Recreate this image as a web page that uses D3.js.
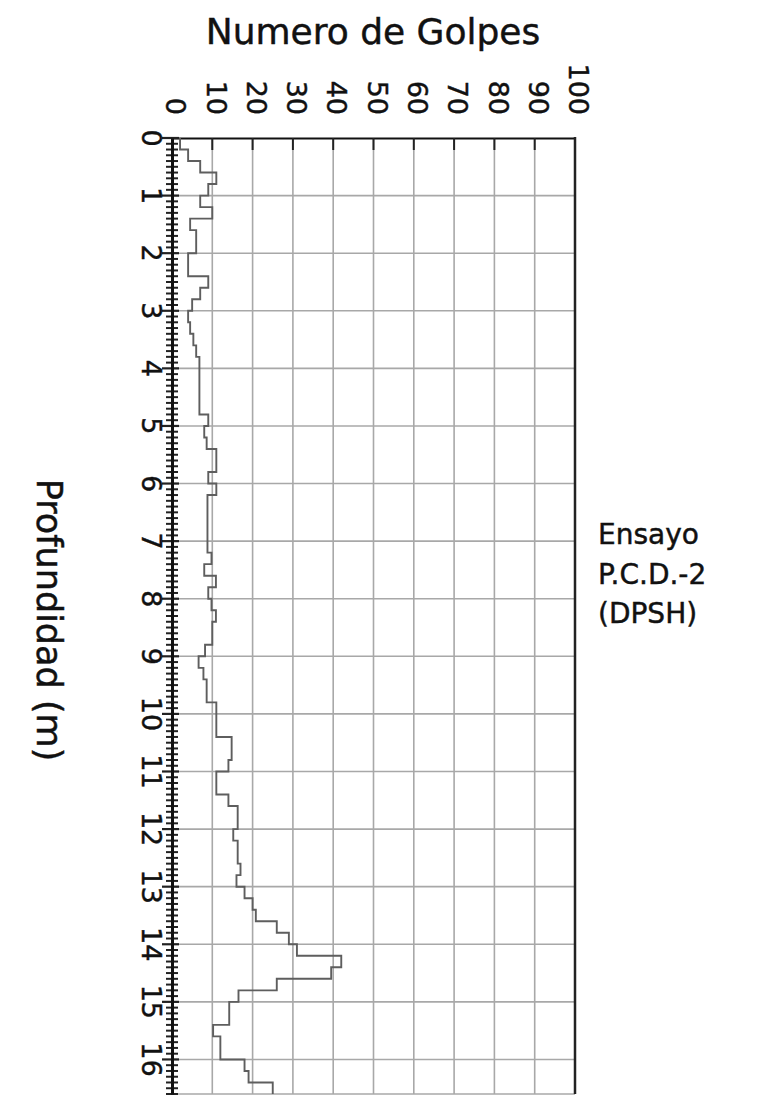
<!DOCTYPE html>
<html><head><meta charset="utf-8">
<script src="https://cdn.jsdelivr.net/npm/d3@7"></script>
<style>html,body{margin:0;padding:0;background:#fff}svg{display:block}</style>
</head><body>
<svg id="chart" width="766" height="1095"></svg>
<script>
// ---- data ----
const golpesTicks = [0,10,20,30,40,50,60,70,80,90,100];
const profTicks = [0,1,2,3,4,5,6,7,8,9,10,11,12,13,14,15,16];
// depth of top of each 20 cm interval (m)
const depthTop = [0.0,0.2,0.4,0.6,0.8,1.0,1.2,1.4,1.6,1.8,2.0,2.2,2.4,2.6,2.8,3.0,3.2,3.4,3.6,3.8,
  4.0,4.2,4.4,4.6,4.8,5.0,5.2,5.4,5.6,5.8,6.0,6.2,6.4,6.6,6.8,7.0,7.2,7.4,7.6,7.8,
  8.0,8.2,8.4,8.6,8.8,9.0,9.2,9.4,9.6,9.8,10.0,10.2,10.4,10.6,10.8,11.0,11.2,11.4,11.6,11.8,
  12.0,12.2,12.4,12.6,12.8,13.0,13.2,13.4,13.6,13.8,14.0,14.2,14.4,14.6,14.8,15.0,15.2,15.4,15.6,15.8,
  16.0,16.2,16.4];
// blows (N20) per interval
const golpes = [2,4,7,11,9,7,10,4.5,6,6,4,4,9,7,5,4,4.5,5.3,6,6.8,
  6.8,6.8,6.8,6.8,9,8,8.6,11,11,9,11,8.8,8.8,8.8,8.8,8.8,9.8,8,10.9,9,
  9.8,10.9,10,10,8.2,6.6,7.8,8.6,8.6,11,11,11,14.8,14.8,14,11,11,14,16.3,16.3,
  15.2,16.3,16.3,17,16,18,20,20.8,26,29,31,42,39.5,26,16.5,14.2,14.2,10.2,12,12,
  18,19,25];
const intervalo = 0.2;
const profMax = 16.6;

// ---- layout ----
const svg = d3.select('#chart');
const FONT = 'DejaVu Sans';
const L = 172, R = 575, T = 138, B = 1094;
const x = d3.scaleLinear().domain([0,100]).range([L,R]);
const y = d3.scaleLinear().domain([0,profMax]).range([T,B]);

function txt(sel, size){
  return sel.attr('font-family',FONT).attr('font-size',size).attr('fill','#111')
    .attr('stroke','#111').attr('stroke-width',0.45);
}

// grid
const g = svg.append('g');
g.selectAll('line.vg').data(golpesTicks.slice(1,-1)).join('line')
  .attr('x1',d=>x(d)).attr('x2',d=>x(d)).attr('y1',T).attr('y2',B)
  .attr('stroke','#a8a8a8').attr('stroke-width',1.6);
g.selectAll('line.hg').data(profTicks.slice(1)).join('line')
  .attr('x1',L).attr('x2',R).attr('y1',d=>y(d)).attr('y2',d=>y(d))
  .attr('stroke','#a8a8a8').attr('stroke-width',1.6);
g.append('line').attr('x1',L).attr('x2',R).attr('y1',B).attr('y2',B).attr('stroke','#a8a8a8').attr('stroke-width',1.6);

// top axis
const topAxis = d3.axisTop(x).tickValues(golpesTicks).tickSize(0).tickFormat('');
const ta = svg.append('g').attr('transform',`translate(0,${T})`).call(topAxis);
ta.select('.domain').attr('stroke','#111').attr('stroke-width',2.2);
svg.selectAll('line.tt').data(golpesTicks.slice(1,-1)).join('line')
  .attr('x1',d=>x(d)).attr('x2',d=>x(d)).attr('y1',T).attr('y2',T+12)
  .attr('stroke','#222').attr('stroke-width',2);
txt(svg.selectAll('text.tl').data(golpesTicks).join('text')
  .attr('transform',d=>`translate(${x(d)+4},115) rotate(90)`)
  .attr('text-anchor','end').attr('dy','0.36em'), 27)
  .text(d=>d);

// right border
svg.append('line').attr('x1',R).attr('x2',R).attr('y1',T-1).attr('y2',B)
  .attr('stroke','#222').attr('stroke-width',2.5);

// left axis
const minor = d3.range(0, Math.round(profMax*10)+1).map(i=>i/10).filter(d=>Math.abs(d-Math.round(d))>1e-6);
svg.selectAll('line.mt').data(minor).join('line')
  .attr('x1',L-6).attr('x2',L+6).attr('y1',d=>y(d)).attr('y2',d=>y(d))
  .attr('stroke','#222').attr('stroke-width',2);
svg.selectAll('line.Mt').data(profTicks).join('line')
  .attr('x1',L-10).attr('x2',L+7).attr('y1',d=>y(d)).attr('y2',d=>y(d))
  .attr('stroke','#222').attr('stroke-width',2.2);
const leftAxis = d3.axisLeft(y).tickValues([]).tickSize(0);
const la = svg.append('g').attr('transform',`translate(${L},0)`).call(leftAxis);
la.select('.domain').attr('stroke','#111').attr('stroke-width',3);
txt(svg.selectAll('text.yl').data(profTicks).join('text')
  .attr('transform',d=>`translate(142,${y(d)}) rotate(90)`)
  .attr('text-anchor','middle'), 27)
  .text(d=>d);

// data step line
const pts = [];
depthTop.forEach((d,i)=>{ pts.push([golpes[i], d]); pts.push([golpes[i], d+intervalo]); });
svg.append('path').datum(pts)
  .attr('d', d3.line().x(p=>x(p[0])).y(p=>y(p[1])))
  .attr('fill','none').attr('stroke','#5e5e5e').attr('stroke-width',1.9);

// titles
txt(svg.append('text').attr('x',373).attr('y',44).attr('text-anchor','middle'), 36)
  .text('Numero de Golpes');
txt(svg.append('text').attr('transform','translate(37,620) rotate(90)').attr('text-anchor','middle'), 35)
  .text('Profundidad (m)');
const ann = ['Ensayo','P.C.D.-2','(DPSH)'];
txt(svg.selectAll('text.ann').data(ann).join('text')
  .attr('x',598).attr('y',(d,i)=>544+i*39.5), 28)
  .text(d=>d);
</script>
</body></html>
